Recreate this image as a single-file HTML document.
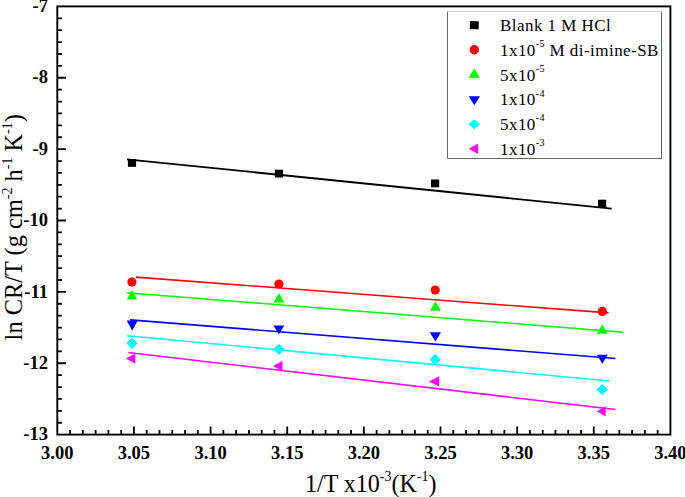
<!DOCTYPE html>
<html><head><meta charset="utf-8"><style>
html,body{margin:0;padding:0;background:#fff;width:685px;height:497px;overflow:hidden;font-family:"Liberation Serif",serif;}
svg{display:block;}
</style></head><body>
<svg width="685" height="497" viewBox="0 0 685 497"><rect x="57.3" y="6.4" width="613.1" height="428.2" fill="none" stroke="#000" stroke-width="1.9"/>
<path d="M57.3 18.30h4.6 M57.3 30.19h4.6 M57.3 42.09h4.6 M57.3 53.98h4.6 M57.3 65.88h4.6 M57.3 77.77h8.6 M57.3 89.67h4.6 M57.3 101.56h4.6 M57.3 113.46h4.6 M57.3 125.35h4.6 M57.3 137.25h4.6 M57.3 149.14h8.6 M57.3 161.04h4.6 M57.3 172.93h4.6 M57.3 184.83h4.6 M57.3 196.72h4.6 M57.3 208.62h4.6 M57.3 220.51h8.6 M57.3 232.41h4.6 M57.3 244.30h4.6 M57.3 256.19h4.6 M57.3 268.09h4.6 M57.3 279.99h4.6 M57.3 291.88h8.6 M57.3 303.77h4.6 M57.3 315.67h4.6 M57.3 327.56h4.6 M57.3 339.46h4.6 M57.3 351.35h4.6 M57.3 363.25h8.6 M57.3 375.15h4.6 M57.3 387.04h4.6 M57.3 398.94h4.6 M57.3 410.83h4.6 M57.3 422.73h4.6 M70.07 434.6v-4.5 M82.85 434.6v-4.5 M95.62 434.6v-4.5 M108.39 434.6v-4.5 M121.17 434.6v-4.5 M133.94 434.6v-8 M146.71 434.6v-4.5 M159.49 434.6v-4.5 M172.26 434.6v-4.5 M185.03 434.6v-4.5 M197.81 434.6v-4.5 M210.58 434.6v-8 M223.35 434.6v-4.5 M236.13 434.6v-4.5 M248.90 434.6v-4.5 M261.67 434.6v-4.5 M274.45 434.6v-4.5 M287.22 434.6v-8 M299.99 434.6v-4.5 M312.77 434.6v-4.5 M325.54 434.6v-4.5 M338.31 434.6v-4.5 M351.09 434.6v-4.5 M363.86 434.6v-8 M376.63 434.6v-4.5 M389.41 434.6v-4.5 M402.18 434.6v-4.5 M414.95 434.6v-4.5 M427.73 434.6v-4.5 M440.50 434.6v-8 M453.27 434.6v-4.5 M466.05 434.6v-4.5 M478.82 434.6v-4.5 M491.59 434.6v-4.5 M504.37 434.6v-4.5 M517.14 434.6v-8 M529.91 434.6v-4.5 M542.69 434.6v-4.5 M555.46 434.6v-4.5 M568.23 434.6v-4.5 M581.01 434.6v-4.5 M593.78 434.6v-8 M606.55 434.6v-4.5 M619.33 434.6v-4.5 M632.10 434.6v-4.5 M644.87 434.6v-4.5 M657.65 434.6v-4.5" stroke="#000" stroke-width="1.8" fill="none"/>
<g font-family="Liberation Serif" font-weight="bold" font-size="18.5" fill="#000"><text x="48" y="12.0" text-anchor="end">-7</text><text x="48" y="83.4" text-anchor="end">-8</text><text x="48" y="154.7" text-anchor="end">-9</text><text x="48" y="226.1" text-anchor="end">-10</text><text x="48" y="297.5" text-anchor="end">-11</text><text x="48" y="368.9" text-anchor="end">-12</text><text x="48" y="440.2" text-anchor="end">-13</text><text x="57.3" y="459.1" text-anchor="middle">3.00</text><text x="133.9" y="459.1" text-anchor="middle">3.05</text><text x="210.6" y="459.1" text-anchor="middle">3.10</text><text x="287.2" y="459.1" text-anchor="middle">3.15</text><text x="363.9" y="459.1" text-anchor="middle">3.20</text><text x="440.5" y="459.1" text-anchor="middle">3.25</text><text x="517.1" y="459.1" text-anchor="middle">3.30</text><text x="593.8" y="459.1" text-anchor="middle">3.35</text><text x="670.4" y="459.1" text-anchor="middle">3.40</text></g>
<text transform="translate(305 491.8) scale(1,1.05)" font-family="Liberation Serif" font-size="24" fill="#000">1/T x10<tspan dy="-10.5" font-size="14">-3</tspan><tspan dy="10.5">(K</tspan><tspan dy="-10.5" font-size="14">-1</tspan><tspan dy="10.5">)</tspan></text>
<text transform="translate(22 340.4) rotate(-90)" font-family="Liberation Serif" font-size="24.4" fill="#000">ln CR/T (g cm<tspan dy="-10.5" font-size="14">-2</tspan><tspan dy="10.5"> h</tspan><tspan dy="-10.5" font-size="14">-1</tspan><tspan dy="10.5"> K</tspan><tspan dy="-10.5" font-size="14">-1</tspan><tspan dy="10.5">)</tspan></text>
<line x1="126.9" y1="159.3" x2="611.7" y2="208.6" stroke="#000" stroke-width="1.8"/>
<line x1="135.9" y1="277.1" x2="608.6" y2="312.9" stroke="#f00" stroke-width="1.6"/>
<line x1="126.9" y1="292.7" x2="623.2" y2="332.2" stroke="#0f0" stroke-width="1.6"/>
<line x1="130.1" y1="319.9" x2="615.4" y2="358.5" stroke="#00f" stroke-width="1.6"/>
<line x1="127.1" y1="335.7" x2="609.3" y2="381.0" stroke="#0ff" stroke-width="1.6"/>
<line x1="128.3" y1="352.5" x2="615.4" y2="409.5" stroke="#f0f" stroke-width="1.6"/>
<rect x="127.9" y="159.0" width="8.2" height="7.8" fill="#000"/>
<rect x="274.9" y="169.7" width="8.2" height="7.8" fill="#000"/>
<rect x="431.0" y="179.5" width="8.2" height="7.8" fill="#000"/>
<rect x="598.0" y="199.7" width="8.2" height="7.8" fill="#000"/>
<circle cx="131.9" cy="282" r="4.6" fill="#f00"/>
<circle cx="278.9" cy="284" r="4.6" fill="#f00"/>
<circle cx="435.2" cy="290" r="4.6" fill="#f00"/>
<circle cx="602.3" cy="311.4" r="4.6" fill="#f00"/>
<polygon points="132.0,290.1 137.1,299.4 126.9,299.4" fill="#0f0"/>
<polygon points="279.0,293.1 284.4,302.4 273.6,302.4" fill="#0f0"/>
<polygon points="435.4,301.3 441,310.8 429.9,310.8" fill="#0f0"/>
<polygon points="602.2,324.2 607.6,333.7 596.9,333.7" fill="#0f0"/>
<polygon points="126.7,320.6 137.7,320.6 132.2,330.8" fill="#00f"/>
<polygon points="273.4,325.6 284.3,325.6 278.9,334.3" fill="#00f"/>
<polygon points="429.7,332.3 441,332.3 435.4,341.4" fill="#00f"/>
<polygon points="596.9,354.8 607.7,354.8 602.3,363.8" fill="#00f"/>
<polygon points="132,337.7 137.8,343.3 132,348.9 126.2,343.3" fill="#0ff"/>
<polygon points="279,343.7 284.8,349.3 279,354.9 273.2,349.3" fill="#0ff"/>
<polygon points="435.2,354.0 441.0,359.6 435.2,365.2 429.4,359.6" fill="#0ff"/>
<polygon points="602.2,384.0 608.0,389.6 602.2,395.2 596.4,389.6" fill="#0ff"/>
<polygon points="125.9,358.6 135.3,353.5 135.3,363.7" fill="#f0f"/>
<polygon points="272.9,366.0 282.5,360.9 282.5,371.2" fill="#f0f"/>
<polygon points="429,381.4 439.2,376.3 439.2,386.5" fill="#f0f"/>
<polygon points="596.9,411.3 605.7,406.2 605.7,416.4" fill="#f0f"/>
<rect x="447" y="11" width="215" height="148" fill="#fff"/>
<path d="M447.5 11.5V158.5H661.5V11.5" fill="none" stroke="#666" stroke-width="1"/>
<path d="M447.5 11.5H661.5" fill="none" stroke="#d8d8d8" stroke-width="1"/>
<rect x="469.90000000000003" y="21.2" width="8.8" height="8" fill="#000"/>
<circle cx="474.3" cy="49.8" r="4.7" fill="#f00"/>
<polygon points="474.3,68.4 480.0,77.7 468.6,77.7" fill="#0f0"/>
<polygon points="468.6,96.2 480.0,96.2 474.3,105.2" fill="#00f"/>
<polygon points="474.3,119.3 480.0,124.3 474.3,129.3 468.6,124.3" fill="#0ff"/>
<polygon points="468.7,148.8 478.1,143.4 478.1,154.1" fill="#f0f"/>
<g font-family="Liberation Serif" font-size="17" letter-spacing="0.45" fill="#000"><text x="500" y="31.0">Blank 1 M HCl</text><text x="500" y="55.8">1x10<tspan dy="-8.8" font-size="10.2" letter-spacing="0.3">-5</tspan><tspan dy="8.8"> M di-imine-SB</tspan></text><text x="500" y="80.5">5x10<tspan dy="-8.8" font-size="10.2" letter-spacing="0.3">-5</tspan></text><text x="500" y="105.3">1x10<tspan dy="-8.8" font-size="10.2" letter-spacing="0.3">-4</tspan></text><text x="500" y="130.0">5x10<tspan dy="-8.8" font-size="10.2" letter-spacing="0.3">-4</tspan></text><text x="500" y="154.8">1x10<tspan dy="-8.8" font-size="10.2" letter-spacing="0.3">-3</tspan></text></g></svg>
</body></html>
